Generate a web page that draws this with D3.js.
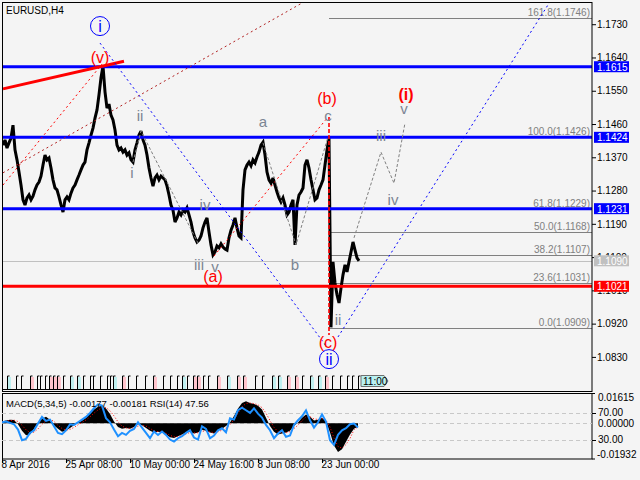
<!DOCTYPE html>
<html><head><meta charset="utf-8">
<script src="https://cdn.jsdelivr.net/npm/d3@7"></script>
<style>body{margin:0;background:#f4f4f4}svg{display:block}text{font-family:"Liberation Sans",Arial,sans-serif}</style>
</head><body><script>
// ---------- DATA ----------
const symbolTitle = "EURUSD,H4";
const closeStart = 1, closeStep = 2;   // bar index of first close, bars between samples
const closes = [
 1.1403,1.1417,1.1395,1.1409,1.1422,1.1457,1.1390,1.1363,1.1330,1.1295,
 1.1255,1.1241,1.1260,1.1268,1.1255,1.1265,1.1282,1.1295,1.1303,1.1319,
 1.1349,1.1376,1.1363,1.1368,1.1341,1.1309,1.1287,1.1282,1.1263,1.1241,
 1.1222,1.1255,1.1263,1.1255,1.1273,1.1287,1.1295,1.1309,1.1322,1.1336,
 1.1349,1.1357,1.1390,1.1409,1.1430,1.1449,1.1476,1.1498,1.1539,1.1585,
 1.1617,1.1547,1.1503,1.1514,1.1484,1.1471,1.1444,1.1403,1.1390,1.1395,
 1.1384,1.1390,1.1376,1.1382,1.1363,1.1357,1.1390,1.1409,1.1430,1.1441,
 1.1417,1.1403,1.1376,1.1341,1.1314,1.1292,1.1314,1.1322,1.1309,1.1319,
 1.1314,1.1309,1.1292,1.1268,1.1241,1.1227,1.1195,1.1206,1.1222,1.1214,
 1.1227,1.1222,1.1233,1.1214,1.1195,1.1168,1.1152,1.1141,1.1146,1.1157,
 1.1179,1.1195,1.1206,1.1168,1.1133,1.1106,1.1114,1.1130,1.1125,1.1136,
 1.1127,1.1122,1.1119,1.1152,1.1173,1.1187,1.1206,1.1179,1.1157,1.1152,
 1.1282,1.1336,1.1349,1.1357,1.1347,1.1363,1.1355,1.1371,1.1384,1.1403,
 1.1411,1.1376,1.1330,1.1309,1.1300,1.1314,1.1295,1.1276,1.1260,1.1249,
 1.1260,1.1241,1.1214,1.1222,1.1241,1.1255,1.1133,1.1241,1.1268,1.1276,
 1.1287,1.1349,1.1363,1.1341,1.1309,1.1282,1.1255,1.1260,1.1282,1.1295,
 1.1309,1.1349,1.1390,1.1422,1.0910,1.1087,1.1030,1.0998,1.0976,1.1016,
 1.1052,1.1079,1.1060,1.1087,1.1114,1.1141,1.1119,1.1098,1.1090];

const priceTicks = [1.1730,1.1640,1.1550,1.1460,1.1370,1.1280,1.1190,1.1100,1.1010,1.0920,1.0830];
const timeTickBars = [0,64,128,192,256,320];
const timeTickLabels = ["8 Apr 2016","25 Apr 08:00","10 May 00:00","24 May 16:00","8 Jun 08:00","23 Jun 00:00"];

const blueLevels = [1.1615,1.1424,1.1231];
const redLevels = [1.1021];
const bidPrice = 1.1090;

const fibRatios = ["161.8","100.0","61.8","50.0","38.2","23.6","0.0"];
const fibPrices = [1.1746,1.1426,1.1229,1.1168,1.1107,1.1031,1.0909];
const fibStartBar = 327;

// trend / channel lines: [bar, price]
const thickRedLine = [[1,1.1555],[122,1.1630]];
const steepRedDotted = [[1,1.1295],[100,1.1622]];
const darkRedDotted = [[1,1.1328],[320,1.1818]];
const abRedDotted = [[212,1.1103],[326,1.1479]];
const bcRedDashed = [[327,1.1479],[327,1.0889]];
const blueDotDown = [[98,1.1679],[324,1.0860]];
const blueDotUp = [[336,1.0884],[552,1.1808]];
const waveMinor1 = [[131,1.1357],[139,1.1441],[196,1.1138]];
const waveMinor2 = [[261,1.1409],[294,1.1133],[326,1.1425]];
const waveProjection = [[352,1.1152],[379,1.1384],[392,1.1300],[403,1.1463]];

// wave labels
const waveText  = ["i","(v)","ii","i","iii","iv","v","(a)","a","b","c","(b)","iii","iv","v","(i)","ii","(c)","ii"];
const waveBar   = [98,98,138,130,197,203,213,211,261,293,326,325,379,391,402,404,336,326,327];
const wavePrice = [1.1725,1.1639,1.1482,1.1330,1.1079,1.1241,1.1075,1.1047,1.1466,1.1081,1.1484,1.1530,1.1430,1.1257,1.1503,1.1539,1.0930,1.0868,1.0824];
const waveDegree= ["circle","red","minor","minor","minor","minor","minor","red","minor","minor","minor","red","minor","minor","minor","redbold","minor","red","circle"];

// MACD / RSI sub-window
const oscStart = 0, oscStep = 4;
const macdHist = [0.0010,0.0015,0.0020,0.0018,-0.0005,-0.0040,-0.0065,-0.0060,-0.0030,0.0005,
 0.0025,0.0035,0.0020,-0.0010,-0.0030,-0.0045,-0.0040,-0.0025,-0.0010,0.0005,
 0.0015,0.0030,0.0055,0.0075,0.0090,0.0095,0.0080,0.0050,0.0010,-0.0020,
 -0.0030,-0.0025,-0.0030,-0.0020,-0.0005,-0.0010,-0.0025,-0.0040,-0.0050,-0.0045,
 -0.0050,-0.0060,-0.0075,-0.0080,-0.0070,-0.0060,-0.0050,-0.0045,-0.0055,-0.0050,
 -0.0035,-0.0040,-0.0050,-0.0055,-0.0040,-0.0030,-0.0015,0.0005,0.0040,0.0080,
 0.0110,0.0120,0.0110,0.0105,0.0095,0.0075,0.0030,-0.0015,-0.0045,-0.0060,
 -0.0055,-0.0050,-0.0040,-0.0015,0.0005,0.0030,0.0048,0.0035,0.0015,0.0020,
 0.0030,0.0010,-0.0050,-0.0120,-0.0155,-0.0140,-0.0100,-0.0060,-0.0030,-0.0018];
const macdSignal = [0.0008,0.0011,0.0015,0.0017,0.0010,-0.0010,-0.0035,-0.0050,-0.0048,-0.0030,
 -0.0005,0.0015,0.0022,0.0010,-0.0010,-0.0028,-0.0037,-0.0033,-0.0022,-0.0008,
 0.0005,0.0018,0.0035,0.0055,0.0072,0.0085,0.0085,0.0068,0.0040,0.0008,
 -0.0015,-0.0025,-0.0027,-0.0025,-0.0015,-0.0010,-0.0015,-0.0028,-0.0040,-0.0045,
 -0.0047,-0.0053,-0.0065,-0.0073,-0.0072,-0.0065,-0.0057,-0.0050,-0.0052,-0.0051,
 -0.0043,-0.0041,-0.0046,-0.0051,-0.0046,-0.0037,-0.0025,-0.0008,0.0020,0.0055,
 0.0088,0.0108,0.0110,0.0107,0.0100,0.0085,0.0055,0.0015,-0.0022,-0.0045,
 -0.0052,-0.0051,-0.0045,-0.0028,-0.0010,0.0015,0.0035,0.0036,0.0024,0.0021,
 0.0026,0.0017,-0.0020,-0.0080,-0.0125,-0.0135,-0.0115,-0.0082,-0.0035,-0.0018];
const rsiValues = [56,57,55,53,45,29,31,40,44,54,
 64,58,60,50,40,38,44,53,52,56,
 60,64,70,77,83,81,62,56,45,35,
 40,37,43,46,56,48,40,32,42,37,
 42,37,30,27,32,35,40,44,33,30,
 50,46,32,36,44,47,41,62,60,74,
 78,74,70,77,69,63,52,44,32,39,
 44,34,36,52,59,65,74,59,48,56,
 68,57,29,22,37,44,47,53,54,48];
const macdRange = [-0.01932,0.01615];
const oscTitle = "MACD(5,34,5) -0.00177 -0.00181 RSI(14) 47.56";
const oscTickText = ["0.01615","70.00","0.00000","30.00","-0.01932"];
const oscLevelsRsi = [70,30];

// event marker row
const markerBars = [5,14,19,28,35,38,43,47,51,55,61,68,75,81,88,91,98,105,108,111,120,126,134,143,151,161,168,175,180,185,191,195,201,206,215,225,235,241,253,260,270,276,285,293,300,308,316,323,330,338,345,350,356];
const markerKind = ["c","","","p","","","","p","p","p","","c","c","","","","","","","c","p","","","","p","","","","c","","p","p","","","p","c","p","p","","","c","c","p","p","","c","c","p","","","","",""];
const lastBarTime = "11:00";

// ---------- DRAW ----------
const svg = d3.select("body").append("svg").attr("width",640).attr("height",480);
svg.append("rect").attr("width",640).attr("height",480).attr("fill","#f4f4f4");

const x = d3.scaleLinear().domain([0,590]).range([2,592]);
const y = d3.scaleLinear().domain([1.0909,1.1746]).range([327.7,18.3]);
const ym = d3.scaleLinear().domain(macdRange).range([459,393.5]);
const yr = d3.scaleLinear().domain([0,100]).range([459.5,393]);

const defs = svg.append("defs");
defs.append("clipPath").attr("id","mainClip").append("rect").attr("x",2).attr("y",2).attr("width",590).attr("height",390);
defs.append("clipPath").attr("id","oscClip").append("rect").attr("x",2).attr("y",393.5).attr("width",590).attr("height",65.5);

const main = svg.append("g").attr("clip-path","url(#mainClip)");
const line = d3.line().x(d=>x(d[0])).y(d=>y(d[1]));

// fib lines
const fib = main.append("g");
fibPrices.forEach((p,i)=>{
  fib.append("line").attr("x1",x(fibStartBar)).attr("x2",592).attr("y1",Math.round(y(p))+0.5).attr("y2",Math.round(y(p))+0.5)
    .attr("stroke","#808080").attr("stroke-width",1);
  fib.append("text").attr("x",590).attr("y",Math.round(y(p))-6).attr("text-anchor","end").attr("dominant-baseline","central")
    .attr("font-size",10).attr("fill","#808080").text(`${fibRatios[i]}(${p.toFixed(4)})`);
});
fib.append("line").attr("x1",x(fibStartBar)+0.5).attr("x2",x(fibStartBar)+0.5).attr("y1",y(fibPrices[1])).attr("y2",y(fibPrices[6]))
  .attr("stroke","#808080").attr("stroke-width",1);

// bid line
main.append("line").attr("x1",2).attr("x2",592).attr("y1",Math.round(y(bidPrice))+0.5).attr("y2",Math.round(y(bidPrice))+0.5)
  .attr("stroke","#c0c0c0").attr("stroke-width",1);

// price
const priceData = closes.map((c,i)=>[closeStart+i*closeStep,c]);
main.append("path").datum(priceData).attr("d",line).attr("fill","none").attr("stroke","#000").attr("stroke-width",3).attr("stroke-linejoin","miter").attr("stroke-miterlimit",3);

// horizontal levels
blueLevels.forEach(p=>main.append("line").attr("x1",2).attr("x2",592).attr("y1",y(p)).attr("y2",y(p)).attr("stroke","#0000ff").attr("stroke-width",3));
redLevels.forEach(p=>main.append("line").attr("x1",2).attr("x2",592).attr("y1",y(p)).attr("y2",y(p)).attr("stroke","#ff0000").attr("stroke-width",3));

// channels / trend lines
function drawLine(pts,color,width,dash){
  const p = main.append("path").datum(pts).attr("d",line).attr("fill","none").attr("stroke",color).attr("stroke-width",width);
  if(dash) p.attr("stroke-dasharray",dash);
}
drawLine(thickRedLine,"#ff0000",3,null);
drawLine(steepRedDotted,"#ff0000",1,"2,3");
drawLine(darkRedDotted,"#b22222",1,"2,3");
drawLine(abRedDotted,"#ff0000",1,"2,3");
drawLine(bcRedDashed,"#ff0000",1.6,"4,2");
drawLine(blueDotDown,"#0000ff",1,"2,3");
drawLine(blueDotUp,"#0000ff",1,"2,3");
drawLine(waveMinor1,"#808080",1,"3,2");
drawLine(waveMinor2,"#808080",1,"3,2");
drawLine(waveProjection,"#808080",1,"3,2");

// wave labels
waveText.forEach((t,i)=>{
  const cx = x(waveBar[i]), cy = y(wavePrice[i]), deg = waveDegree[i];
  if(deg==="circle"){
    main.append("circle").attr("cx",cx).attr("cy",cy).attr("r",9.5).attr("fill","none").attr("stroke","#0000ff").attr("stroke-width",1);
  }
  main.append("text").attr("x",cx).attr("y",cy).attr("text-anchor","middle").attr("dominant-baseline","central")
    .attr("font-size", deg==="minor"?15:16)
    .attr("font-weight", deg==="redbold"?"bold":"normal")
    .attr("fill", deg==="circle"?"#0000ff":(deg==="minor"?"#7b8593":"#ff0000"))
    .text(t);
});

// marker row
const mk = svg.append("g");
mk.append("line").attr("x1",2).attr("x2",390).attr("y1",389.5).attr("y2",389.5).attr("stroke","#000");
markerBars.forEach((b,i)=>{
  const mx = Math.round(x(b))+0.5;
  if(markerKind[i]){
    mk.append("rect").attr("x",mx+0.5).attr("y",377).attr("width",3).attr("height",12)
      .attr("fill", markerKind[i]==="p"?"#ffc4cc":"#bff0f0");
  }
  mk.append("path").attr("d",`M${mx},389 V376 H${mx+2}`).attr("fill","none").attr("stroke","#000").attr("stroke-width",1);
});
const lastX = x(closeStart+(closes.length-1)*closeStep)+2;
mk.append("path").attr("d",`M${lastX},375.5 H${lastX+23} L${lastX+27},381 L${lastX+23},386.5 H${lastX} Z`)
  .attr("fill","#b8f0f0").attr("stroke","#707070");
mk.append("text").attr("x",lastX+2).attr("y",381.5).attr("dominant-baseline","central").attr("font-size",10).attr("fill","#000").text(lastBarTime);

// title
svg.append("text").attr("x",6).attr("y",10).attr("dominant-baseline","central").attr("font-size",10).attr("fill","#000").text(symbolTitle);

// panel frames
svg.append("rect").attr("x",2.5).attr("y",2.5).attr("width",589.5).attr("height",389).attr("fill","none").attr("stroke","#000");
svg.append("rect").attr("x",2.5).attr("y",393.5).attr("width",589.5).attr("height",65.5).attr("fill","none").attr("stroke","#000");

// price axis
const pa = svg.append("g").attr("transform","translate(592,0)")
  .call(d3.axisRight(y).tickValues(priceTicks).tickSize(4).tickPadding(1).tickFormat(d3.format(".4f")));
pa.select(".domain").remove();
pa.selectAll("text").attr("font-size",10).attr("font-family","Liberation Sans, Arial").attr("fill","#000");

// price boxes
function priceBox(p,color){
  const cy = y(p);
  svg.append("rect").attr("x",594).attr("y",cy-5.5).attr("width",35).attr("height",11).attr("fill",color);
  svg.append("text").attr("x",597).attr("y",cy+0.5).attr("dominant-baseline","central").attr("font-size",10).attr("fill","#fff").text(p.toFixed(4));
}
blueLevels.forEach(p=>priceBox(p,"#0000ff"));
priceBox(bidPrice,"#c0c0c0");
redLevels.forEach(p=>priceBox(p,"#ff0000"));

// time axis
const ta = svg.append("g").attr("transform","translate(0,459)")
  .call(d3.axisBottom(x).tickValues(timeTickBars).tickSize(4).tickFormat((d,i)=>timeTickLabels[i]));
ta.select(".domain").remove();
ta.selectAll("text").attr("text-anchor","start").attr("dx",-1).attr("dy","0.2em").attr("font-size",10).attr("font-family","Liberation Sans, Arial").attr("fill","#000");

// oscillator window
const osc = svg.append("g").attr("clip-path","url(#oscClip)");
[yr(70),ym(0),yr(30)].forEach(v=>osc.append("line").attr("x1",2).attr("x2",592).attr("y1",Math.round(v)+0.5).attr("y2",Math.round(v)+0.5)
  .attr("stroke","#c8c8c8").attr("stroke-dasharray","4,3"));
const oscBars = macdHist.map((v,i)=>oscStart+i*oscStep);
osc.append("path").datum(macdHist.map((v,i)=>[oscBars[i],v]))
  .attr("d",d3.area().x(d=>x(d[0])).y0(ym(0)).y1(d=>ym(d[1]))).attr("fill","#000");
osc.append("path").datum(macdSignal.map((v,i)=>[oscBars[i],v]))
  .attr("d",d3.line().x(d=>x(d[0])).y(d=>ym(d[1]))).attr("fill","none").attr("stroke","#ff0000").attr("stroke-width",1).attr("stroke-dasharray","1,2");
osc.append("path").datum(rsiValues.map((v,i)=>[oscBars[i],v]))
  .attr("d",d3.line().x(d=>x(d[0])).y(d=>yr(d[1]))).attr("fill","none").attr("stroke","#1e90ff").attr("stroke-width",2);
svg.append("text").attr("x",6).attr("y",403).attr("dominant-baseline","central").attr("font-size",9.5).attr("fill","#000").text(oscTitle);

// oscillator axis labels
const oscTickY = [ym(macdRange[1])+4, yr(oscLevelsRsi[0]), ym(0), yr(oscLevelsRsi[1]), ym(macdRange[0])-5];
oscTickText.forEach((t,i)=>{
  svg.append("text").attr("x",t.startsWith("-")?597:598).attr("y",oscTickY[i]).attr("dominant-baseline","central").attr("font-size",10).attr("fill","#000").text(t);
});
oscLevelsRsi.forEach(v=>svg.append("line").attr("x1",592).attr("x2",596).attr("y1",Math.round(yr(v))+0.5).attr("y2",Math.round(yr(v))+0.5).attr("stroke","#000"));
svg.append("path").attr("d","M592,393.5 H595 M592,459 H595").attr("stroke","#000");
</script></body></html>
